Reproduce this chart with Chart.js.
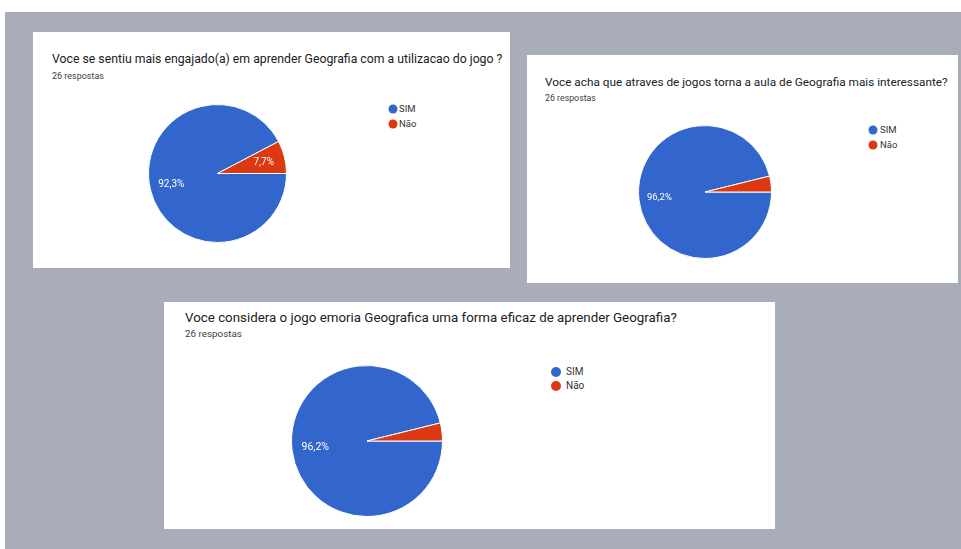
<!DOCTYPE html>
<html>
<head>
<meta charset="utf-8">
<script src="https://cdn.jsdelivr.net/npm/chart.js@4"></script>
<style>
  html, body { margin: 0; padding: 0; background: #fff; }
  body { width: 961px; height: 549px; position: relative; overflow: hidden; font-family: Roboto, "Noto Sans", sans-serif; }
  #backdrop { position: absolute; left: 5px; top: 12px; width: 956px; height: 537px; background: #a9adb9; }
  .panel { position: absolute; background: #fff; }
  .txt { position: absolute; white-space: nowrap; line-height: 1; transform: translateY(-50%); }
  .title { color: #202124; }
  .sub { color: #3c4043; }
  .leg { color: #333; }
  .dot { position: absolute; border-radius: 50%; transform: translate(-50%, -50%); }
  canvas { position: absolute; }
</style>
</head>
<body>
<div id="backdrop"></div>
<script>
// data
const questions = [
    "Voce se sentiu mais engajado(a) em aprender Geografia com a utilizacao do jogo ?",
    "Voce acha que atraves de jogos torna a aula de Geografia mais interessante?",
    "Voce considera o jogo emoria Geografica uma forma eficaz de aprender Geografia?"
];
const answerLabels = ["SIM", "Não"];
const simCounts = [24, 25, 25];
const naoCounts = [2, 1, 1];
const responseNote = "26 respostas";
const sliceColors = ["#3366cc", "#dc3912"];

// where each screenshot sits on the page
const panels = [
    { box: [33, 32, 477, 236], title: [52, 59, 451], sub: [52, 76, 52], pie: [217.5, 173.5, 68.5], legend: [393, 109, 15, 4.5, 399, 9.5], label: 10 },
    { box: [527, 55, 431, 228], title: [545, 83, 403], sub: [545, 98, 51], pie: [705, 192, 66], legend: [873, 130, 15, 4.5, 880, 9.5], label: 9.5 },
    { box: [164, 302, 611, 227], title: [185, 318, 492], sub: [185, 334, 57], pie: [366.5, 441, 75], legend: [556, 372, 14, 5, 566, 10], label: 10.5 }
];

const measureCtx = document.createElement("canvas").getContext("2d");
function fitSize(text, width) {
    measureCtx.font = "100px Roboto";
    return 100 * width / measureCtx.measureText(text).width;
}

function addText(cls, text, x, y, size) {
    let el = document.createElement("div");
    el.className = "txt " + cls;
    el.textContent = text;
    el.style.left = x + "px";
    el.style.top = y + "px";
    el.style.fontSize = size + "px";
    document.body.appendChild(el);
    return el;
}

// percent labels inside the slices, hidden on thin slices like the original
const sliceLabels = {
    id: "sliceLabels",
    afterDatasetsDraw(chart, args, opts) {
        const ctx = chart.ctx;
        const meta = chart.getDatasetMeta(0);
        const values = chart.data.datasets[0].data;
        const total = values.reduce((a, b) => a + b, 0);
        ctx.save();
        ctx.fillStyle = "#fff";
        ctx.font = opts.size + "px Roboto";
        ctx.textAlign = "center";
        ctx.textBaseline = "middle";
        meta.data.forEach((arc, i) => {
            const pct = values[i] / total * 100;
            if (pct < 5) return;
            const p = arc.getProps(["x", "y", "startAngle", "endAngle", "outerRadius"], true);
            const mid = (p.startAngle + p.endAngle) / 2;
            const r = p.outerRadius * 0.69;
            ctx.fillText(pct.toFixed(1).replace(".", ",") + "%", p.x + Math.cos(mid) * r, p.y + Math.sin(mid) * r);
        });
        ctx.restore();
    }
};

panels.forEach((p, i) => {
    let panel = document.createElement("div");
    panel.className = "panel";
    panel.style.left = p.box[0] + "px";
    panel.style.top = p.box[1] + "px";
    panel.style.width = p.box[2] + "px";
    panel.style.height = p.box[3] + "px";
    document.body.appendChild(panel);

    addText("title", questions[i], p.title[0], p.title[1], fitSize(questions[i], p.title[2]));
    addText("sub", responseNote, p.sub[0], p.sub[1], fitSize(responseNote, p.sub[2]));

    const [lx, ly, step, dotR, tx, fs] = p.legend;
    answerLabels.forEach((lab, j) => {
        let dot = document.createElement("div");
        dot.className = "dot";
        dot.style.left = lx + "px";
        dot.style.top = (ly + j * step) + "px";
        dot.style.width = dot.style.height = (dotR * 2) + "px";
        dot.style.background = sliceColors[j];
        document.body.appendChild(dot);
        addText("leg", lab, tx, ly + j * step, fs);
    });

    const [cx, cy, r] = p.pie;
    const size = Math.round(r * 2 + 2);
    let canvas = document.createElement("canvas");
    canvas.width = size;
    canvas.height = size;
    canvas.style.left = (cx - size / 2) + "px";
    canvas.style.top = (cy - size / 2) + "px";
    document.body.appendChild(canvas);

    new Chart(canvas.getContext("2d"), {
        type: "pie",
        data: {
            labels: answerLabels,
            datasets: [{
                data: [simCounts[i], naoCounts[i]],
                backgroundColor: sliceColors,
                borderColor: "#ffffff",
                borderWidth: 1
            }]
        },
        options: {
            responsive: false,
            animation: false,
            rotation: 90,
            layout: { padding: 0 },
            plugins: {
                legend: { display: false },
                tooltip: { enabled: false },
                sliceLabels: { size: p.label }
            }
        },
        plugins: [sliceLabels]
    });
});
</script>
</body>
</html>
